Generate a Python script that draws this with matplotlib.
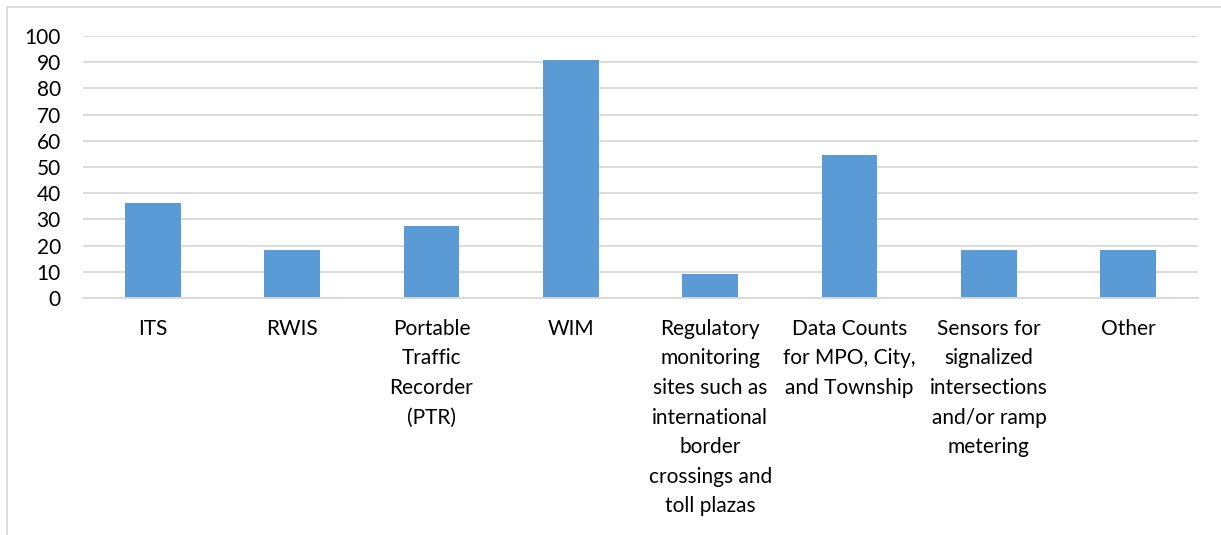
import matplotlib
matplotlib.use("Agg")
import matplotlib.pyplot as plt
from matplotlib.patches import Rectangle

categories = [
    "ITS",
    "RWIS",
    "Portable\nTraffic\nRecorder\n(PTR)",
    "WIM",
    "Regulatory\nmonitoring\nsites such as\ninternational\nborder\ncrossings and\ntoll plazas",
    "Data Counts\nfor MPO, City,\nand Township",
    "Sensors for\nsignalized\nintersections\nand/or ramp\nmetering",
    "Other",
]
values = [36.4, 18.2, 27.3, 90.9, 9.1, 54.5, 18.2, 18.2]
yticks = [0, 10, 20, 30, 40, 50, 60, 70, 80, 90, 100]

plt.rcParams['font.family'] = ['Lato', 'DejaVu Sans']
W, H = 1221, 535
fig = plt.figure(figsize=(W / 100, H / 100), dpi=100)
ax = fig.add_axes([83 / W, 1 - 298 / H, (1198 - 83) / W, (298 - 36) / H])

x = list(range(len(categories)))
ax.bar(x, values, width=0.4, color="#5B9BD5", zorder=3)
ax.set_xlim(-0.5, len(categories) - 0.5)
ax.set_ylim(0, 100)
ax.set_yticks(yticks)
ax.set_yticklabels([str(t) for t in yticks], fontsize=15)
ax.set_xticks(x)
ax.set_xticklabels(categories, fontsize=15, linespacing=1.6, va="top")
ax.tick_params(axis="both", length=0, colors="black")
ax.tick_params(axis="y", pad=16)
ax.tick_params(axis="x", pad=15)
ax.grid(axis="y", color="#d9d9d9", linewidth=1.3, zorder=0)
for s in ["top", "right", "left"]:
    ax.spines[s].set_visible(False)
ax.spines["bottom"].set_color("#d9d9d9")
ax.spines["bottom"].set_linewidth(1.3)
ax.spines["bottom"].set_zorder(4)

fig.patches.append(Rectangle((7 / W, -0.05), 1.1, (535 - 7) / H + 0.05,
                             transform=fig.transFigure, fill=False,
                             edgecolor="#d9d9d9", linewidth=1.3))
fig.savefig("out.png", dpi=100)
